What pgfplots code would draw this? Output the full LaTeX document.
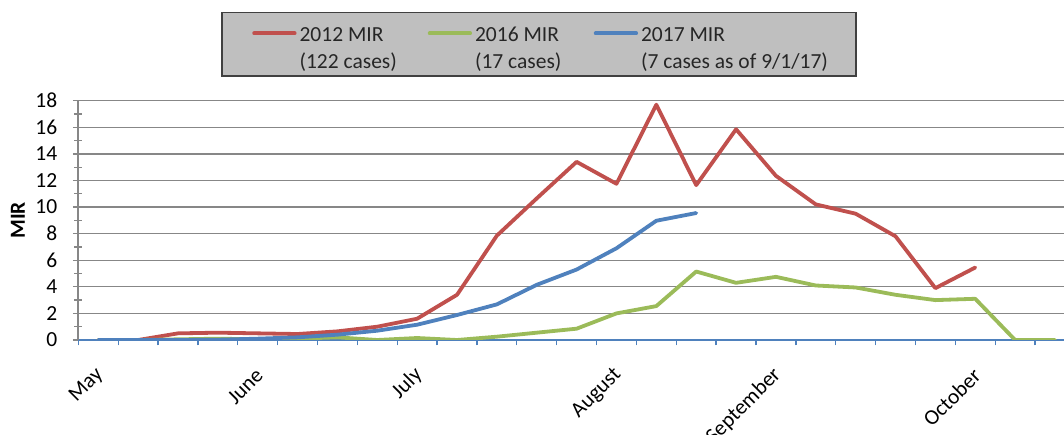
\documentclass[border=0pt]{standalone}
\usepackage{fontspec}
\setmainfont{Carlito}
\usepackage{pgfplots}
\pgfplotsset{compat=1.18}
\definecolor{cRed}{HTML}{C0504D}
\definecolor{cGreen}{HTML}{9BBB59}
\definecolor{cBlue}{HTML}{4F81BD}
\definecolor{cGrid}{HTML}{878787}
\definecolor{cLeg}{HTML}{BFBFBF}
\definecolor{cTxt}{HTML}{262626}
\newcommand{\chartfont}{\fontsize{21.5}{26.5}\selectfont}
\newcommand{\twoline}[3]{\begin{tabular}[b]{@{}l@{}}\rule{0pt}{23.5pt}\makebox[#3][l]{#1}\\\makebox[#3][l]{#2}\end{tabular}}

\pgfplotstableread{
x y
0 0
1 0
2 0.5
3 0.55
4 0.5
5 0.45
6 0.65
7 1.0
8 1.6
9 3.4
10 7.85
11 10.65
12 13.4
13 11.75
14 17.7
15 11.65
16 15.85
17 12.35
18 10.2
19 9.5
20 7.8
21 3.9
22 5.45
}\redtab

\pgfplotstableread{
x y
0 0
1 0
2 0.05
3 0.1
4 0.05
5 0.1
6 0.2
7 0.0
8 0.15
9 0.0
10 0.25
11 0.55
12 0.85
13 2.0
14 2.55
15 5.15
16 4.3
17 4.75
18 4.1
19 3.95
20 3.4
21 3.0
22 3.1
23 0
24 0
}\greentab

\pgfplotstableread{
x y
0 0
1 0
2 0
3 0.02
4 0.1
5 0.2
6 0.4
7 0.7
8 1.15
9 1.88
10 2.68
11 4.15
12 5.3
13 6.9
14 8.97
15 9.55
}\bluetab

\begin{document}
\begin{tikzpicture}[font=\chartfont]
\useasboundingbox (0,0) rectangle (1064pt,435pt);
\begin{axis}[
  scale only axis, width=996.6pt, height=239.3pt,
  at={(78.3pt,95pt)}, anchor=south west,
  xmin=-0.5, xmax=24.5, ymin=0, ymax=18,
  axis x line*=bottom, axis y line*=left,
  x axis line style={cBlue, line width=1.6pt, -},
  y axis line style={cGrid, line width=1.6pt, -},
  xtick={-0.5,0.5,...,23.5}, xticklabels={},
  x tick style={cBlue, line width=1.3pt},
  tick align=outside, major tick length=5.5pt,
  extra x ticks={0,4,8,13,17,22},
  extra x tick labels={May,June,July,August,September,October},
  extra x tick style={major tick length=0pt, grid=none,
    tick style={draw=none},
    xticklabel style={rotate=45, anchor=east, xshift=-17.9pt, yshift=-23.9pt, text=black}},
  ytick={0,2,...,18},
  y tick style={cGrid, line width=1.3pt},
  ymajorgrids, grid style={cGrid, line width=1.3pt},
  extra y ticks={1,3,...,17}, extra y tick labels={},
  extra y tick style={grid=none, tick align=center, major tick length=8pt},
  yticklabel style={text=black, xshift=-12pt},
  /pgf/number format/assume math mode=true,
  ylabel={\bfseries MIR},
  ylabel style={at={(axis description cs:-0.0605,0.5)}, anchor=center, rotate=0, text=black},
  legend columns=3,
  legend image code/.code={\draw[#1] (0pt,10.8pt) -- (40.5pt,10.8pt);},
  legend style={at={(0.1432,1.3719)}, anchor=north west,
    fill=cLeg, draw=black!75, line width=1.5pt,
    inner xsep=30.5pt, inner ysep=6pt,
    font=\chartfont, text=cTxt,
    nodes={inner sep=0pt},
    /tikz/every odd column/.append style={column sep=3pt},
    /tikz/every even column/.append style={column sep=26pt}},
  legend cell align=left,
]
\addplot[cRed, line width=3.8pt, line join=round, line cap=round] table[x=x,y=y] {\redtab};
\addlegendentry{\twoline{2012 MIR}{(122 cases)}{102.2pt}}
\addplot[cGreen, line width=3.8pt, line join=round, line cap=round] table[x=x,y=y] {\greentab};
\addlegendentry{\twoline{2016 MIR}{(17 cases)}{92.7pt}}
\addplot[cBlue, line width=3.8pt, line join=round, line cap=round] table[x=x,y=y] {\bluetab};
\addlegendentry{\twoline{2017 MIR}{(7 cases as of 9/1/17)}{184.2pt}}
\end{axis}
\end{tikzpicture}
\end{document}
